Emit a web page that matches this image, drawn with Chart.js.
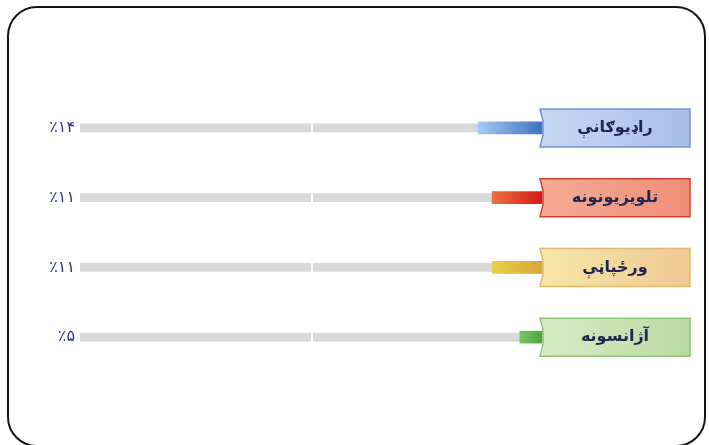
<!DOCTYPE html>
<html>
<head>
<meta charset="utf-8">
<script src="https://cdn.jsdelivr.net/npm/chart.js@4.4.1/dist/chart.umd.min.js"></script>
<style>
  html, body { margin: 0; padding: 0; background: #fff; }
  #wrap { position: relative; width: 709px; height: 445px; overflow: hidden; }
  #c { position: absolute; left: 0; top: 0; }
  #frame {
    position: absolute; left: 7px; top: 6px; width: 695px; height: 437px;
    border: 2px solid #141414; border-radius: 30px; pointer-events: none;
  }
</style>
</head>
<body>
<div id="wrap">
  <canvas id="c" width="709" height="445"></canvas>
  <div id="frame"></div>
</div>
<script>
// data
const categories = ['راډیوګانې', 'تلویزیونونه', 'ورځپاڼې', 'آژانسونه'];
const shares = [14, 11, 11, 5];
const shareLabels = ['٪۱۴', '٪۱۱', '٪۱۱', '٪۵'];
const trackTotal = [100, 100, 100, 100];

// colours per row
const barColors = [['#a6cbef', '#3b70c5'], ['#ee7040', '#d3161a'], ['#ead04a', '#d8a436'], ['#78c865', '#4aa33c']];
const boxFills = [['#c7d8f3', '#a7bee8'], ['#f5ab95', '#ee8f78'], ['#f7e8a8', '#eec994'], ['#d6ecc5', '#b8dba2']];
const boxBorders = ['#7293d3', '#d4412c', '#e1b96a', '#8dc479'];

const barGradient = (ctx) => {
  const chart = ctx.chart;
  const area = chart.chartArea;
  const cols = barColors[ctx.dataIndex];
  if (!area || !cols) return cols ? cols[1] : '#888';
  const x = chart.scales.x;
  const g = chart.ctx.createLinearGradient(x.getPixelForValue(shares[ctx.dataIndex]), 0, x.getPixelForValue(0), 0);
  g.addColorStop(0, cols[0]);
  g.addColorStop(1, cols[1]);
  return g;
};

const labelBoxes = {
  id: 'labelBoxes',
  afterDraw(chart) {
    const { ctx, chartArea } = chart;
    const y = chart.scales.y;
    const L = chartArea.right - 3, R = L + 150, notch = 3;
    ctx.save();
    categories.forEach((name, i) => {
      const cy = y.getPixelForValue(i);
      const T = cy - 19, B = cy + 19;
      const g = ctx.createLinearGradient(L, 0, R, 0);
      g.addColorStop(0, boxFills[i][0]);
      g.addColorStop(1, boxFills[i][1]);
      ctx.beginPath();
      ctx.moveTo(L, T);
      ctx.lineTo(R, T);
      ctx.lineTo(R, B);
      ctx.lineTo(L, B);
      ctx.lineTo(L + notch, cy + 7);
      ctx.lineTo(L + notch, cy - 7);
      ctx.closePath();
      ctx.fillStyle = g;
      ctx.fill();
      ctx.lineWidth = 1.5;
      ctx.strokeStyle = boxBorders[i];
      ctx.stroke();
      ctx.fillStyle = '#1d2550';
      ctx.font = '600 16px "DejaVu Sans"';
      ctx.textAlign = 'center';
      ctx.textBaseline = 'middle';
      ctx.direction = 'rtl';
      ctx.fillText(name, (L + R) / 2, cy);
    });
    ctx.restore();
  }
};

new Chart(document.getElementById('c'), {
  type: 'bar',
  data: {
    labels: categories,
    datasets: [
      {
        data: shares,
        backgroundColor: barGradient,
        barThickness: 12,
        borderWidth: 0,
        xAxisID: 'x',
        yAxisID: 'y'
      },
      {
        data: trackTotal,
        backgroundColor: '#d9d9d9',
        barThickness: 8,
        borderWidth: 0,
        xAxisID: 'x',
        yAxisID: 'y'
      }
    ]
  },
  options: {
    indexAxis: 'y',
    responsive: false,
    animation: false,
    layout: { padding: { top: 93, bottom: 73, left: 0, right: 0 } },
    datasets: { bar: { grouped: false } },
    plugins: { legend: { display: false }, tooltip: { enabled: false } },
    scales: {
      x: {
        type: 'linear', reverse: true, min: 0, max: 100,
        ticks: { display: false, stepSize: 50 },
        border: { display: false },
        grid: {
          z: 1, lineWidth: 2, drawTicks: false,
          color: (c) => (c.tick && c.tick.value === 50 ? '#ffffff' : 'rgba(0,0,0,0)')
        },
        afterFit: (s) => { s.height = 0; }
      },
      y: {
        type: 'category', labels: categories, position: 'right', offset: true,
        grid: { display: false, drawTicks: false }, border: { display: false },
        ticks: { display: false },
        afterFit: (s) => { s.width = 166; }
      },
      yPct: {
        type: 'category', labels: shareLabels, position: 'left', axis: 'y', offset: true,
        grid: { display: false, drawTicks: false }, border: { display: false },
        ticks: { color: '#2b3785', padding: 5, font: { family: 'DejaVu Sans', size: 16 } },
        afterFit: (s) => { s.width = 80; }
      }
    }
  },
  plugins: [labelBoxes]
});
</script>
</body>
</html>
